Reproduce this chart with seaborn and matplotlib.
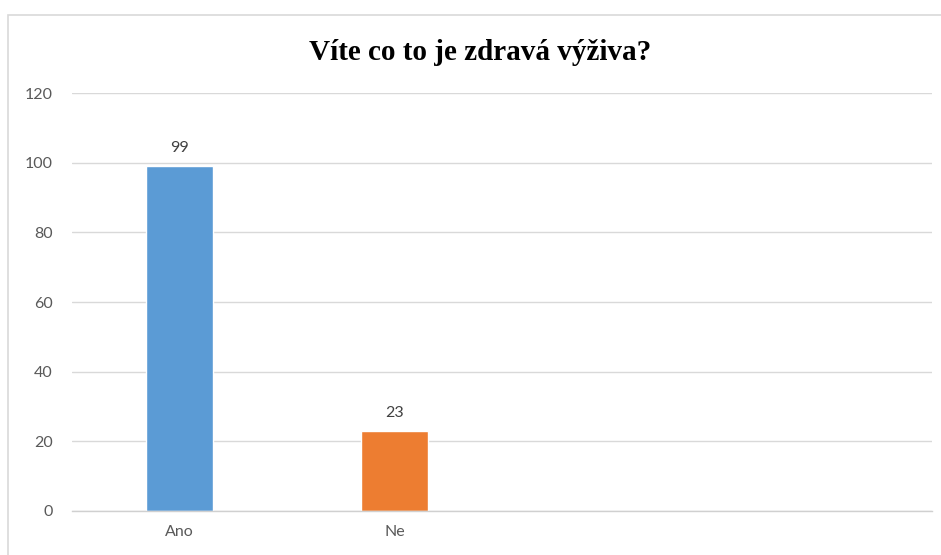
import matplotlib
matplotlib.use("Agg")
import matplotlib.pyplot as plt
import seaborn as sns
import pandas as pd
from matplotlib.patches import Rectangle

# Survey answers
categories = ["Ano", "Ne"]
counts = [99, 23]
bar_colors = ["#5B9BD5", "#ED7D31"]
y_ticks = [0, 20, 40, 60, 80, 100, 120]
title = "Víte co to je zdravá výživa?"

df = pd.DataFrame({"odpoved": categories, "pocet": counts})

sns.set_theme(style="white")
plt.rcParams["font.family"] = ["Lato", "DejaVu Sans"]

fig = plt.figure(figsize=(9.41, 5.55), dpi=100)
fig.patch.set_facecolor("white")
ax = fig.add_axes([0.0765, 0.0793, 0.914, 0.7531])

sns.barplot(data=df, x="odpoved", y="pocet", hue="odpoved",
            palette=bar_colors, order=categories, width=0.31,
            legend=False, ax=ax, saturation=1)

# Four category slots, only the first two used
ax.set_xlim(-0.5, 3.5)
ax.set_ylim(0, 120)
ax.set_yticks(y_ticks)
ax.set_xlabel("")
ax.set_ylabel("")

ax.grid(axis="y", color="#d9d9d9", linewidth=1.0)
ax.set_axisbelow(True)
for side in ["top", "right", "left"]:
    ax.spines[side].set_visible(False)
ax.spines["bottom"].set_color("#d0d0d0")
ax.spines["bottom"].set_linewidth(1.0)

ax.tick_params(axis="y", length=0, pad=14, labelsize=11.5, labelcolor="#595959")
ax.tick_params(axis="x", length=0, pad=10, labelsize=11.5, labelcolor="#595959")

for container in ax.containers:
    ax.bar_label(container, fmt="%d", padding=8, fontsize=11.5, color="#404040")

fig.text(0.51, 0.905, title, ha="center", va="center",
         fontsize=21, fontweight="bold", family="Liberation Serif", color="#000000")

# Chart frame
fig.patches.append(Rectangle((8 / 941, -0.01), 1.0, 1 - 15 / 555 + 0.01,
                             transform=fig.transFigure, fill=False,
                             edgecolor="#d9d9d9", linewidth=1.2))

fig.savefig("out.png", dpi=100, facecolor="white")
